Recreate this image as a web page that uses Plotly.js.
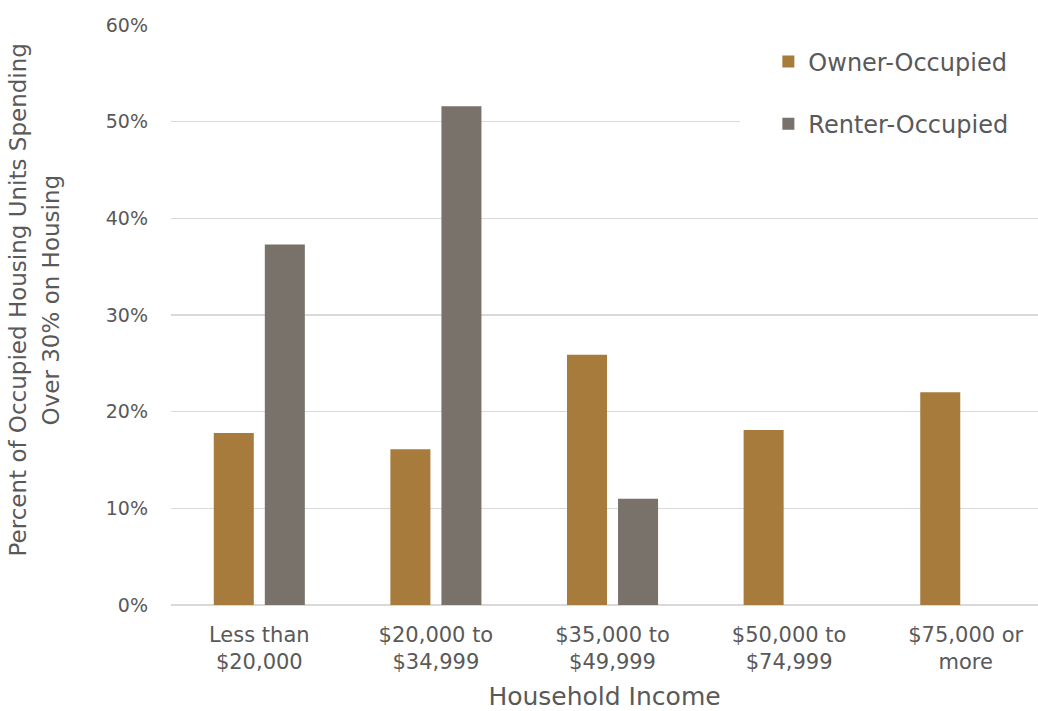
<!DOCTYPE html>
<html>
<head>
<meta charset="utf-8">
<script src="https://cdn.plot.ly/plotly-3.0.1.min.js"></script>
<style>html,body{margin:0;padding:0;background:#fff;}#chart{width:1038px;height:711px;}</style>
</head>
<body>
<div id="chart"></div>
<script>
const categories = ["Less than<br>$20,000", "$20,000 to<br>$34,999", "$35,000 to<br>$49,999", "$50,000 to<br>$74,999", "$75,000 or<br>more"];
const ownerOccupied = [0.178, 0.161, 0.259, 0.181, 0.220];
const renterOccupied = [0.373, 0.516, 0.110, 0, 0];
const yTicks = [0, 0.1, 0.2, 0.3, 0.4, 0.5, 0.6];
const yTickLabels = ["0%", "10%", "20%", "30%", "40%", "50%", "60%"];
const yTitleLines = ["Percent of Occupied Housing Units Spending", "Over 30% on Housing"];
const xTitle = "Household Income";

const FONT = "DejaVu Sans, sans-serif";
const TXT = "#595959";

const traces = [
  {type: "bar", name: "Owner-Occupied", x: categories, y: ownerOccupied,
   marker: {color: "#A67B3B"}, legendgroup: "a", hoverinfo: "y"},
  {type: "bar", name: "Renter-Occupied", x: categories, y: renterOccupied,
   marker: {color: "#79726A"}, legendgroup: "b", hoverinfo: "y"}
];

const layout = {
  width: 1038, height: 711,
  margin: {l: 171, r: 0, t: 25, b: 106},
  paper_bgcolor: "#fff", plot_bgcolor: "#fff",
  font: {family: FONT, color: TXT, size: 19},
  barmode: "group", bargap: 0.422, bargroupgap: 0.216,
  xaxis: {
    type: "category", range: [-0.5, 4.409], fixedrange: true,
    showgrid: false, zeroline: false, showline: false, ticks: "",
    tickfont: {size: 21, color: TXT}, ticklabelstandoff: 15,
    title: {text: xTitle, font: {size: 25, color: TXT}, standoff: 18}
  },
  yaxis: {
    range: [0, 0.6], tickvals: yTicks, ticktext: yTickLabels,
    showgrid: true, gridcolor: "#D9D9D9", gridwidth: 1.3,
    zeroline: true, zerolinecolor: "#D9D9D9", zerolinewidth: 1.3,
    showline: false, ticks: "", ticklabelstandoff: 22,
    tickfont: {size: 19, color: TXT}
  },
  annotations: [
    {text: yTitleLines[0], xref: "paper", yref: "paper", x: -0.177, y: 0.526, xanchor: "center", yanchor: "middle",
     textangle: -90, showarrow: false, font: {size: 23, color: TXT}},
    {text: yTitleLines[1], xref: "paper", yref: "paper", x: -0.139, y: 0.526, xanchor: "center", yanchor: "middle",
     textangle: -90, showarrow: false, font: {size: 23, color: TXT}}
  ],
  shapes: [
    {type: "rect", layer: "above", xref: "paper", yref: "y", x0: 0.656, x1: 1, y0: 0.45, y1: 0.57,
     fillcolor: "#fff", line: {width: 0}}
  ],
  legend: {
    x: 0.689, xanchor: "left", y: 0.975, yanchor: "top",
    bgcolor: "rgba(0,0,0,0)", font: {size: 24, color: TXT},
    tracegroupgap: 28, traceorder: "grouped"
  },
  showlegend: true
};

Plotly.newPlot("chart", traces, layout, {displayModeBar: false, staticPlot: true});
</script>
</body>
</html>
